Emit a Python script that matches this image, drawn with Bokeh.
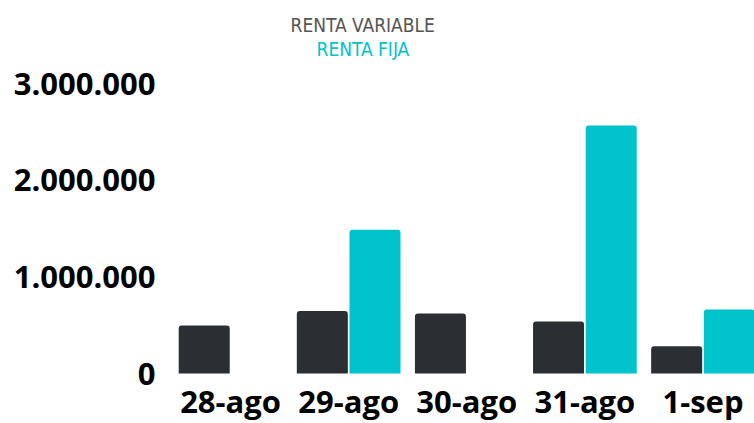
from bokeh.plotting import figure
from bokeh.models import Range1d, FixedTicker, Title
from bokeh.embed import file_html
from bokeh.resources import INLINE
import numpy as np

dates = ["28-ago", "29-ago", "30-ago", "31-ago", "1-sep"]
renta_variable = [496000, 648000, 620000, 538000, 282000]
renta_fija = [0, 1486000, 0, 2565000, 662000]
y_ticks = [0, 1000000, 2000000, 3000000]
y_tick_labels = ["0", "1.000.000", "2.000.000", "3.000.000"]
series_names = ["RENTA VARIABLE", "RENTA FIJA"]

DARK = "#2b2f33"
CYAN = "#00c3cc"

p = figure(width=754, height=423, output_backend="svg", toolbar_location=None,
           x_range=Range1d(-0.5, 4.436), y_range=Range1d(-517000, 3000000),
           min_border_left=171, min_border_right=0, min_border_top=83,
           min_border_bottom=0)
p.outline_line_color = None
p.grid.grid_line_color = None
p.background_fill_color = "white"
p.border_fill_color = "white"

x = np.arange(len(dates))
p.vbar(x=x - 0.223, top=renta_variable, width=0.432, fill_color=DARK,
       line_color=None, border_radius=(3, 3, 0, 0))
p.vbar(x=x + 0.223, top=renta_fija, width=0.432, fill_color=CYAN,
       line_color=None, border_radius=(3, 3, 0, 0))

for ax in (p.xaxis[0], p.yaxis[0]):
    ax.axis_line_color = None
    ax.major_tick_line_color = None
    ax.minor_tick_line_color = None
    ax.major_tick_out = 0
    ax.major_tick_in = 0
    ax.minor_tick_out = 0
    ax.minor_tick_in = 0
    ax.axis_label_standoff = 0
    ax.major_label_text_font = "Open Sans"
    ax.major_label_text_font_style = "bold"
    ax.major_label_text_font_size = "31px"
    ax.major_label_text_color = "#000000"

p.xaxis.ticker = FixedTicker(ticks=list(range(len(dates))))
p.xaxis.major_label_overrides = {i: d for i, d in enumerate(dates)}
p.xaxis.major_label_standoff = 6
p.xaxis.fixed_location = 0
p.yaxis.ticker = FixedTicker(ticks=y_ticks)
p.yaxis.major_label_overrides = {t: l for t, l in zip(y_ticks, y_tick_labels)}
p.yaxis.major_label_standoff = 16

legend_font = "DejaVu Sans Condensed, Roboto, sans-serif"
# spacer between the plot frame and the legend lines
p.add_layout(Title(text=" ", text_font=legend_font, text_font_size="18px",
                   standoff=1), "above")
p.add_layout(Title(text=series_names[1], text_color=CYAN, text_font=legend_font,
                   text_font_size="19px", text_font_style="normal",
                   align="left", offset=145, standoff=0), "above")
p.add_layout(Title(text=series_names[0], text_color="#555555", text_font=legend_font,
                   text_font_size="19px", text_font_style="normal",
                   align="left", offset=119, standoff=0), "above")

open("out.html", "w").write(file_html(p, INLINE))
